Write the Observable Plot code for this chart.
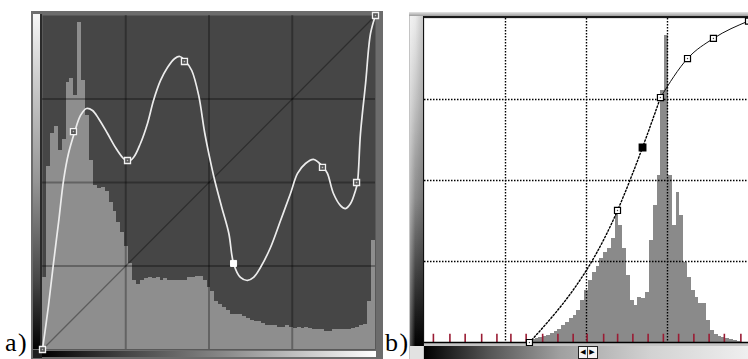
<!DOCTYPE html>
<html><head><meta charset="utf-8">
<script src="https://cdn.jsdelivr.net/npm/d3@7"></script>
<script src="https://cdn.jsdelivr.net/npm/@observablehq/plot@0.6"></script>
<style>
body{margin:0;width:748px;height:359px;overflow:hidden;background:#fff;position:relative;font-family:"Liberation Serif","DejaVu Serif",serif}
.abs{position:absolute}
.lbl{position:absolute;font-size:26px;line-height:22px;height:22px;color:#000;letter-spacing:1.5px;white-space:nowrap}
.arr{display:inline-block;width:8px;text-align:center}
</style></head><body>
<script>
// ---------- Panel a data (0–255 tone units) ----------
const aGrid = [63.75, 127.5, 191.25];
const aBinWidth = 3;
const aHist = [55,140,165,170,152,160,204,207,194,250,205,179,144,125,123,124,121,112,105,97,
  89,79,66,53,50,53,54,55,54,55,53,54,53,53,53,53,53,55,55,56,
  56,53,47,44,37,34,32,30,27,27,27,25,24,22,21,21,20,18,18,18,
  17,17,18,17,16,17,16,17,16,15,15,15,14,14,15,15,15,15,15,16,
  17,18,19,37,83];
// control points
const aCurveX = [0, 23.7, 65.1, 108.7, 146.3, 214.4, 240.5, 255];
const aCurveY = [0, 166.4, 144.3, 219.9, 65.7, 139, 127.5, 255];
const aActive = 4;
// curve
const aLineX = [0,4.6,8.4,12.3,16.1,19.9,24.5,29.1,33.7,38.3,42.9,49.8,55.9,61.3,65.1,69.7,75.0,80.4,85.0,90.4,95.7,101.3,105.1,109.7,114.3,119.6,124.3,129.6,131.9,137.3,142.7,146.3,151.6,157,161.6,166.9,174.6,182.3,189.9,195.3,201.4,207.5,211.4,215.2,218.2,222.8,228.2,232,235.9,239.7,241.2,243.5,247.4,251.2,255];
const aLineY = [0,33.6,65.7,97,129,149.6,165.7,178.7,184,182.5,176.4,164.9,154.2,146.6,143.5,146.6,157.3,172.6,190.1,205.4,215.3,222.2,223.7,219.9,213,194,164.9,139,129,108.4,88.6,65.7,55,52.7,55,62.6,77.9,98.5,119.1,134.4,142,145.1,142.8,139,134.4,119.1,109.9,107.6,111.4,121.4,127.5,164.9,203.1,241.3,255];
const aDiagX = [0, 255], aDiagY = [0, 255];

// ---------- Panel b data ----------
const bGrid = [63.75, 127.5, 191.25];
const bBinStart = 81, bBinWidth = 3;
const bHist = [1.6,2.4,3.1,3.9,4.7,5.5,7.1,8.7,10.2,13.4,15.7,18.9,21.2,25.2,33,40.9,48.8,55.1,59.8,66.1,
  70.8,74,81.8,103.9,92,74,52.7,33,29.1,35.4,34.6,39.3,80.3,107.8,131.4,198.3,241.6,131.4,92,118,
  100,63,51,41,35.4,30.7,30.7,17.3,9.4,6.3,4.7,3.9,3.1,2.4,1.6,0.8];
const bCurveX = [82.6, 151.9, 171.6, 185.7, 207, 227.4, 255];
const bCurveY = [0, 103.9, 153.5, 192.8, 223.5, 239.3, 253];
const bActive = 2;
const bDottedUntil = 3;
const bTicks = [7,20,32,45,57,68,80,93,105,117,128,141,152,164,176,188,200,212,224,236,249];

// ---------- decorations ----------
function box(css){const d=document.createElement("div");d.className="abs";Object.assign(d.style,css);document.body.appendChild(d);return d;}
// panel a frame
box({left:"31px",top:"11px",width:"352px",height:"348px",background:"#6c6c6c"});
box({left:"33px",top:"14px",width:"7px",height:"335px",background:"linear-gradient(to bottom,#f6f6f6 0%,#d0d0d0 18%,#959595 50%,#454545 80%,#000 100%)"});
box({left:"40px",top:"14px",width:"2px",height:"337px",background:"#2a2a2a"});
box({left:"33px",top:"350px",width:"9px",height:"8px",background:"#1e1e1e"});
box({left:"42px",top:"351px",width:"334px",height:"6px",background:"linear-gradient(to right,#000 0%,#444 25%,#8a8a8a 55%,#d8d8d8 85%,#fff 100%)"});
// panel b frame
box({left:"409px",top:"12px",width:"339px",height:"347px",background:"#c4c4c4"});
box({left:"409px",top:"12px",width:"339px",height:"4px",background:"linear-gradient(to bottom,#e4e4e4,#9c9c9c)"});
box({left:"423px",top:"16px",width:"325px",height:"2px",background:"#1a1a1a"});
box({left:"410px",top:"16px",width:"13px",height:"330px",background:"linear-gradient(to right,rgba(255,255,255,0.35),rgba(255,255,255,0) 40%,rgba(0,0,0,0.15)),linear-gradient(to bottom,#ececec 0%,#c6c6c6 25%,#8c8c8c 55%,#3c3c3c 80%,#000 100%)"});
box({left:"423px",top:"16px",width:"1px",height:"330px",background:"#111"});
box({left:"410px",top:"346px",width:"13px",height:"13px",background:"#e2e2e2"});
box({left:"424px",top:"346px",width:"324px",height:"13px",background:"linear-gradient(to right,#000 0%,#555 20%,#a0a0a0 42%,#d2d2d2 70%,#efefef 100%)"});
const sl = box({left:"578px",top:"346px",width:"18px",height:"11px",background:"#f4f4f4",border:"1px solid #222",
  fontFamily:"DejaVu Sans",fontSize:"7px",lineHeight:"11px",color:"#000",whiteSpace:"nowrap",overflow:"hidden",display:"flex"});
const s1 = document.createElement("span"); s1.className="arr"; s1.textContent="◀"; s1.style.borderRight="1px solid #444";
const s2 = document.createElement("span"); s2.className="arr"; s2.textContent="▶";
sl.appendChild(s1); sl.appendChild(s2);

// labels
const la = document.createElement("div"); la.className="lbl"; la.style.left="5px"; la.style.top="332px"; la.textContent="a)"; document.body.appendChild(la);
const lb = document.createElement("div"); lb.className="lbl"; lb.style.left="385px"; lb.style.top="332px"; lb.textContent="b)"; document.body.appendChild(lb);

// ---------- Panel a plot ----------
const aHistData = aHist.map((h, i) => ({x1: i * aBinWidth, x2: Math.min(255, i * aBinWidth + aBinWidth), h}));
const aCurve = aCurveX.map((x, i) => ({x, y: aCurveY[i], active: i === aActive}));
const aLine = aLineX.map((x, i) => ({x, y: aLineY[i]}));
const aDiag = aDiagX.map((x, i) => ({x, y: aDiagY[i]}));

const plotA = Plot.plot({
  width: 345, height: 346, marginLeft: 6, marginRight: 6, marginTop: 6, marginBottom: 6,
  x: {domain: [0, 255], axis: null}, y: {domain: [0, 255], axis: null},
  style: {background: "transparent", overflow: "visible"},
  marks: [
    Plot.frame({fill: "#464646", stroke: null}),
    Plot.rect(aHistData, {x1: "x1", x2: "x2", y1: 0, y2: "h", fill: "#8e8e8e", shapeRendering: "crispEdges"}),
    Plot.ruleX(aGrid, {stroke: "#000", strokeOpacity: 0.3, strokeWidth: 2}),
    Plot.ruleY(aGrid, {stroke: "#000", strokeOpacity: 0.3, strokeWidth: 2}),
    Plot.line(aDiag, {x: "x", y: "y", stroke: "#000", strokeOpacity: 0.35, strokeWidth: 1.3}),
    Plot.line(aLine, {x: "x", y: "y", curve: "catmull-rom", stroke: "#ececec", strokeWidth: 1.7}),
    Plot.dot(aCurve.filter(d => !d.active), {x: "x", y: "y", symbol: "square", r: 3.4, fill: "#555", stroke: "#f2f2f2", strokeWidth: 1.3}),
    Plot.dot(aCurve.filter(d => !d.active), {x: "x", y: "y", symbol: "square", r: 0.8, fill: "#bbb"}),
    Plot.dot(aCurve.filter(d => d.active), {x: "x", y: "y", symbol: "square", r: 3.4, fill: "#fff", stroke: "#fff", strokeWidth: 1})
  ]
});
Object.assign(plotA.style, {position: "absolute", left: "36px", top: "9px"});
document.body.appendChild(plotA);

// ---------- Panel b plot ----------
const bHistData = bHist.map((h, i) => ({x1: bBinStart + i * bBinWidth, x2: bBinStart + i * bBinWidth + bBinWidth, h}));
const bCurve = bCurveX.map((x, i) => ({x, y: bCurveY[i], active: i === bActive, idx: i}));

const plotB = Plot.plot({
  width: 336, height: 336, marginLeft: 6, marginRight: 6, marginTop: 6, marginBottom: 6,
  x: {domain: [0, 255], axis: null}, y: {domain: [0, 255], axis: null},
  style: {background: "transparent", overflow: "visible"},
  marks: [
    Plot.frame({fill: "#fff", stroke: null}),
    Plot.rect(bHistData, {x1: "x1", x2: "x2", y1: 0, y2: "h", fill: "#8a8a8a", shapeRendering: "crispEdges"}),
    Plot.ruleX(bGrid, {stroke: "#000", strokeWidth: 1.4, strokeDasharray: "1.5,1.5"}),
    Plot.ruleY(bGrid, {stroke: "#000", strokeWidth: 1.4, strokeDasharray: "1.5,1.5"}),
    Plot.ruleX(bTicks, {y1: 0, y2: 6.5, stroke: "#9a1c34", strokeWidth: 1.6}),
    Plot.ruleY([0], {stroke: "#000", strokeWidth: 1.6}),
    Plot.line(bCurve.filter(d => d.idx <= bDottedUntil), {x: "x", y: "y", curve: "monotone-x", stroke: "#000", strokeWidth: 1.4, strokeDasharray: "1.6,2"}),
    Plot.line(bCurve.filter(d => d.idx >= bDottedUntil), {x: "x", y: "y", curve: "monotone-x", stroke: "#111", strokeWidth: 1}),
    Plot.dot(bCurve.filter(d => !d.active), {x: "x", y: "y", symbol: "square", r: 3.4, fill: "#fff", stroke: "#000", strokeWidth: 1.2}),
    Plot.dot(bCurve.filter(d => !d.active), {x: "x", y: "y", symbol: "square", r: 0.7, fill: "#444"}),
    Plot.dot(bCurve.filter(d => d.active), {x: "x", y: "y", symbol: "square", r: 3.6, fill: "#000", stroke: "#000"})
  ]
});
Object.assign(plotB.style, {position: "absolute", left: "418px", top: "12px"});
document.body.appendChild(plotB);
</script>
</body></html>
